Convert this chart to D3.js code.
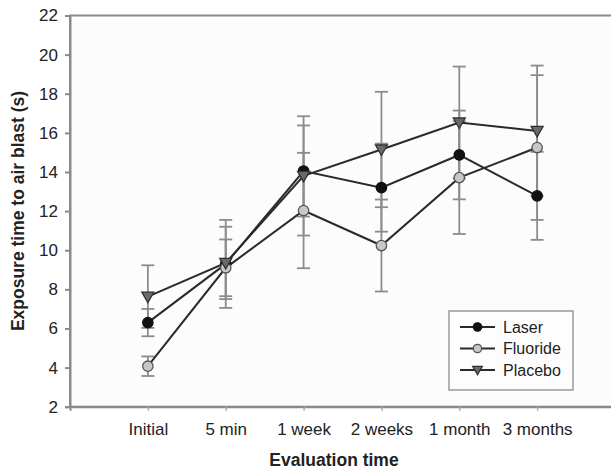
<!DOCTYPE html>
<html lang="en">
<head>
<meta charset="UTF-8">
<title>Exposure time to air blast</title>
<script src="https://d3js.org/d3.v7.min.js"></script>
<style>
  body { margin: 0; background: #fff; }
  svg text { font-family: "Liberation Sans", Arial, sans-serif; fill: #222; }
</style>
</head>
<body>
<svg width="611" height="470"></svg>
<script>
const categories = ["Initial", "5 min", "1 week", "2 weeks", "1 month", "3 months"];
const yTicks = [2, 4, 6, 8, 10, 12, 14, 16, 18, 20, 22];

const laserMean = [6.3, 9.3, 14.05, 13.2, 14.87, 12.78];
const laserSD = [0.7, 2.25, 2.33, 2.25, 2.27, 2.25];
const fluorideMean = [4.07, 9.1, 12.03, 10.24, 13.71, 15.25];
const fluorideSD = [0.5, 1.45, 2.95, 2.35, 2.88, 3.7];
const placeboMean = [7.63, 9.35, 13.8, 15.15, 16.53, 16.1];
const placeboSD = [1.6, 1.85, 3.05, 2.95, 2.86, 3.34];

const seriesNames = ["Laser", "Fluoride", "Placebo"];

const series = [
    { name: "Laser", mean: laserMean, sd: laserSD, shape: "circle", fill: "#111", stroke: "#111" },
    { name: "Fluoride", mean: fluorideMean, sd: fluorideSD, shape: "circle", fill: "#c8c8c8", stroke: "#555" },
    { name: "Placebo", mean: placeboMean, sd: placeboSD, shape: "triangle", fill: "#6a6a6a", stroke: "#333" }
];

const plotLeft = 70, plotRight = 615, plotTop = 15.5, plotBottom = 406.7;

const svg = d3.select("svg");

const x = d3.scalePoint()
    .domain(categories)
    .range([plotLeft, plotRight])
    .padding(1);

const y = d3.scaleLinear()
    .domain([2, 22])
    .range([plotBottom, plotTop]);

// plot area
svg.append("rect")
    .attr("x", plotLeft)
    .attr("y", plotTop)
    .attr("width", plotRight - plotLeft)
    .attr("height", plotBottom - plotTop)
    .attr("fill", "#fcfcfc")
    .attr("stroke", "#8a8a8a")
    .attr("stroke-width", 2);

// axes
const yAxis = svg.append("g")
    .attr("transform", `translate(${plotLeft},0)`)
    .call(d3.axisLeft(y).tickValues(yTicks).tickSize(5).tickPadding(7));
yAxis.select(".domain").attr("stroke", "#8a8a8a").attr("stroke-width", 2);
yAxis.selectAll(".tick line").attr("stroke", "#8a8a8a").attr("stroke-width", 2);
yAxis.selectAll(".tick text").style("font-size", "17px").attr("fill", "#222");

const xAxis = svg.append("g")
    .attr("transform", `translate(0,${plotBottom})`)
    .call(d3.axisBottom(x).tickSize(4).tickPadding(12));
xAxis.select(".domain").attr("stroke", "#8a8a8a").attr("stroke-width", 2);
xAxis.selectAll(".tick line").attr("stroke", "#aaa").attr("stroke-width", 1.5);
xAxis.selectAll(".tick text").style("font-size", "17px").attr("fill", "#222");

svg.append("text")
    .attr("transform", "rotate(-90)")
    .attr("x", -211)
    .attr("y", 24)
    .attr("text-anchor", "middle")
    .style("font-size", "17.5px")
    .style("font-weight", "bold")
    .text("Exposure time to air blast (s)");

svg.append("text")
    .attr("x", 334)
    .attr("y", 466)
    .attr("text-anchor", "middle")
    .style("font-size", "17.5px")
    .style("font-weight", "bold")
    .text("Evaluation time");

// error bars
const capW = 6.5;
series.forEach(s => {
    const g = svg.append("g").attr("stroke", "#8c8c8c").attr("stroke-width", 1.8);
    categories.forEach((c, i) => {
        const cx = x(c), hi = y(s.mean[i] + s.sd[i]), lo = y(s.mean[i] - s.sd[i]);
        g.append("line").attr("x1", cx).attr("x2", cx).attr("y1", hi).attr("y2", lo);
        g.append("line").attr("x1", cx - capW).attr("x2", cx + capW).attr("y1", hi).attr("y2", hi);
        g.append("line").attr("x1", cx - capW).attr("x2", cx + capW).attr("y1", lo).attr("y2", lo);
    });
});

// lines
const line = d3.line()
    .x((d, i) => x(categories[i]))
    .y(d => y(d));

series.forEach(s => {
    svg.append("path")
        .datum(s.mean)
        .attr("fill", "none")
        .attr("stroke", "#2a2a2a")
        .attr("stroke-width", 2)
        .attr("d", line);
});

function drawMarker(g, s, cx, cy, k) {
    if (s.shape === "circle") {
        g.append("circle")
            .attr("cx", cx).attr("cy", cy).attr("r", 5.2 * k)
            .attr("fill", s.fill).attr("stroke", s.stroke).attr("stroke-width", 1.3);
    } else {
        g.append("path")
            .attr("d", `M${cx - 6 * k},${cy - 4.5 * k} L${cx + 6 * k},${cy - 4.5 * k} L${cx},${cy + 6 * k} Z`)
            .attr("fill", s.fill).attr("stroke", s.stroke).attr("stroke-width", 1.3);
    }
}

// markers
series.forEach(s => {
    const g = svg.append("g");
    s.mean.forEach((v, i) => drawMarker(g, s, x(categories[i]), y(v), 1));
});

// legend
const legend = svg.append("g");
legend.append("rect")
    .attr("x", 449).attr("y", 311)
    .attr("width", 124).attr("height", 79)
    .attr("fill", "#fdfdfd")
    .attr("stroke", "#999")
    .attr("stroke-width", 1.5);

seriesNames.forEach((name, i) => {
    const s = series.find(d => d.name === name);
    const ly = 327 + i * 21.5;
    legend.append("line")
        .attr("x1", 460).attr("x2", 495)
        .attr("y1", ly).attr("y2", ly)
        .attr("stroke", "#2a2a2a").attr("stroke-width", 2);
    drawMarker(legend, s, 477.5, ly, 0.8);
    legend.append("text")
        .attr("x", 503)
        .attr("y", ly)
        .attr("dy", "0.35em")
        .style("font-size", "16px")
        .text(name);
});
</script>
</body>
</html>
